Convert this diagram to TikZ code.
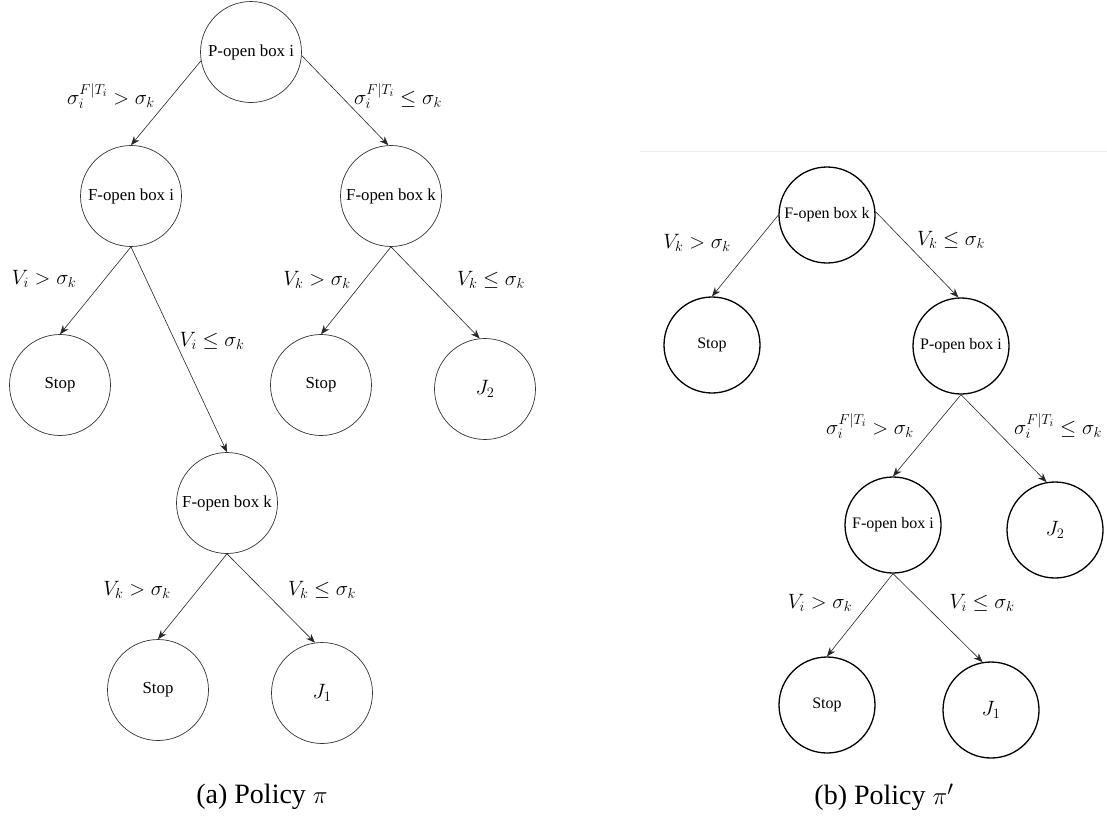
\documentclass[tikz,border=0pt]{standalone}
\usepackage{fontspec}
\setmainfont{Liberation Serif}
\usetikzlibrary{arrows.meta}
\tikzset{
  lnode/.style={circle, draw=black!80, line width=0.7pt, minimum size=101pt, inner sep=0pt, font=\fontsize{16.8}{18}\selectfont},
  rnode/.style={circle, draw=black, line width=1.3pt, minimum size=96pt, inner sep=0pt, font=\fontsize{16}{18}\selectfont},
  edge/.style={-{Stealth[length=9pt,width=7pt]}, line width=0.6pt, draw=black!85},
  lab/.style={font=\fontsize{21.5}{24}\selectfont, inner sep=0pt},
  capt/.style={font=\fontsize{28}{30}\selectfont, inner sep=0pt},
  jfont/.style={font=\fontsize{22}{24}\selectfont}
}
\begin{document}
\begin{tikzpicture}[x=1pt,y=-1pt]
\useasboundingbox[fill=white] (0,0) rectangle (1107,817);
% faint line
\draw[black!7, line width=0.8pt] (640,151) -- (1107,151);

% ---------- (a) ----------
\node[lnode] (aP) at (251,52) {P-open box i};
\node[lnode] (aFi) at (131,196) {F-open box i};
\node[lnode] (aFk) at (391,196) {F-open box k};
\node[lnode] (aS1) at (60,385) {Stop};
\node[lnode] (aS2) at (321,385) {Stop};
\node[lnode, jfont] (aJ2) at (485,389) {$J_2$};
\node[lnode] (aFk2) at (227,503) {F-open box k};
\node[lnode] (aS3) at (158,690) {Stop};
\node[lnode, jfont] (aJ1) at (322,693) {$J_1$};

\draw[edge] (aP.190) -- (aFi.north);
\draw[edge] (aP.356) -- (aFk.93);
\draw[edge] (aFi.south) -- (aS1.north);
\draw[edge] (aFi.south) -- (aFk2.north);
\draw[edge] (aFk.south) -- (aS2.north);
\draw[edge] (aFk.south) -- (aJ2.96);
\draw[edge] (aFk2.south) -- (aS3.north);
\draw[edge] (aFk2.south) -- (aJ1.98);

\node[lab] (la1) at (111,96) {$\sigma_i^{F|T_i} > \sigma_k$};
\node[lab] (la2) at (398,96) {$\sigma_i^{F|T_i} \leq \sigma_k$};
\node[lab] (la3) at (44,279) {$V_i > \sigma_k$};
\node[lab] (la4) at (212,341) {$V_i \leq \sigma_k$};
\node[lab] (la5) at (317,280) {$V_k > \sigma_k$};
\node[lab] (la6) at (491,280) {$V_k \leq \sigma_k$};
\node[lab] (la7) at (137,590) {$V_k > \sigma_k$};
\node[lab] (la8) at (322,590) {$V_k \leq \sigma_k$};

\node[capt] (capa) at (262,797) {(a) Policy $\pi$};

% ---------- (b) ----------
\node[rnode] (bFk) at (827,215) {F-open box k};
\node[rnode] (bS1) at (712,345) {Stop};
\node[rnode] (bP) at (961,346) {P-open box i};
\node[rnode] (bFi) at (893,525) {F-open box i};
\node[rnode, jfont] (bJ2) at (1055,530) {$J_2$};
\node[rnode] (bS2) at (827,705) {Stop};
\node[rnode, jfont] (bJ1) at (991,710) {$J_1$};

\draw[edge] (bFk.180) -- (bS1.north);
\draw[edge] (bFk.4) -- (bP.93);
\draw[edge] (bP.south) -- (bFi.north);
\draw[edge] (bP.south) -- (bJ2.100);
\draw[edge] (bFi.south) -- (bS2.north);
\draw[edge] (bFi.south) -- (bJ1.100);

\node[lab] (lb1) at (697,243) {$V_k > \sigma_k$};
\node[lab] (lb2) at (951,240) {$V_k \leq \sigma_k$};
\node[lab] (lb3) at (870,426) {$\sigma_i^{F|T_i} > \sigma_k$};
\node[lab] (lb4) at (1058,426) {$\sigma_i^{F|T_i} \leq \sigma_k$};
\node[lab] (lb5) at (820,603) {$V_i > \sigma_k$};
\node[lab] (lb6) at (982,603) {$V_i \leq \sigma_k$};

\node[capt] (capb) at (884,797) {(b) Policy $\pi'$};
\end{tikzpicture}
\end{document}
